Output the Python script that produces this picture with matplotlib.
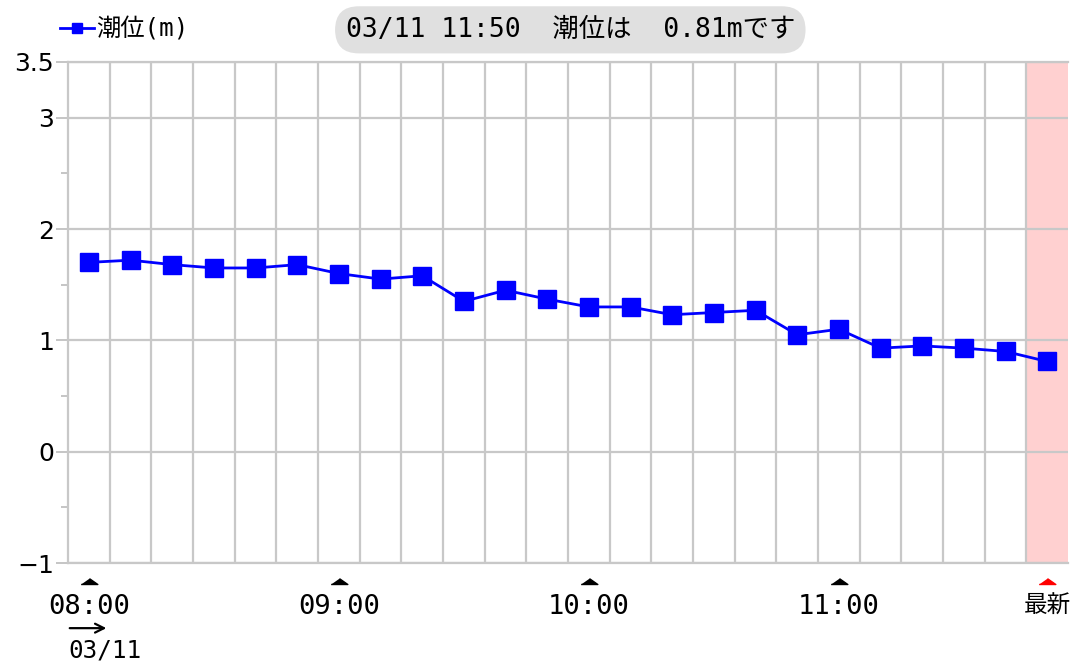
import numpy as np
import matplotlib.pyplot as plt
from matplotlib.transforms import blended_transform_factory

# 10-minute readings, 03/11 08:00 .. 11:50
times = ['08:00', '08:10', '08:20', '08:30', '08:40', '08:50',
         '09:00', '09:10', '09:20', '09:30', '09:40', '09:50',
         '10:00', '10:10', '10:20', '10:30', '10:40', '10:50',
         '11:00', '11:10', '11:20', '11:30', '11:40', '11:50']
tide = [1.70, 1.72, 1.68, 1.65, 1.65, 1.68, 1.60, 1.55, 1.58, 1.35, 1.45, 1.37,
        1.30, 1.30, 1.23, 1.25, 1.27, 1.05, 1.10, 0.93, 0.95, 0.93, 0.90, 0.81]

tick_idx = [0, 6, 12, 18, 23]
tick_labels = ['08:00', '09:00', '10:00', '11:00', '最新']
yticks = [-1, 0, 1, 2, 3, 3.5]
ytick_labels = ['−1', '0', '1', '2', '3', '3.5']
yminor = [-0.5, 0.5, 1.5, 2.5]

mono = ['DejaVu Sans Mono', 'Noto Sans CJK JP']
plt.rcParams['font.family'] = mono

fig = plt.figure(figsize=(10.7, 6.63), dpi=100)
ax = fig.add_axes([0.0636, 0.1508, 0.9346, 0.7557])

x = np.arange(len(tide))
ax.axvspan(len(tide) - 1.5, len(tide) - 0.5, color='#ffd0d0', lw=0, zorder=0)
line, = ax.plot(x, tide, color='#0000ff', lw=2, marker='s', ms=13, zorder=3)

ax.set_xlim(-0.5, len(tide) - 0.5)
ax.set_ylim(-1, 3.5)

# grid
ax.set_xticks(np.arange(0.5, len(tide) - 1, 1), minor=True)
ax.set_xticks(tick_idx, tick_labels)
ax.xaxis.grid(True, which='minor', color='#c8c8c8', lw=1.6)
ax.set_yticks(yticks, ytick_labels)
ax.set_yticks(yminor, minor=True)
ax.yaxis.grid(True, which='major', color='#c8c8c8', lw=1.6)

ax.tick_params(axis='x', which='both', length=0, pad=22, labelsize=19.5)
ax.tick_params(axis='y', which='major', length=9, width=1.2, color='#bbbbbb', labelsize=18, pad=1)
ax.tick_params(axis='y', which='minor', length=5, width=1.2, color='#bbbbbb')
for lab in ax.get_yticklabels():
    lab.set_family('DejaVu Sans')
ax.get_xticklabels()[-1].set_fontsize(17)

for s in ['left', 'bottom', 'top']:
    ax.spines[s].set_color('#c8c8c8')
    ax.spines[s].set_linewidth(1.6)
ax.spines['right'].set_visible(False)

# small triangles above the time labels
tr = blended_transform_factory(ax.transData, ax.transAxes)
tri_colors = ['black'] * (len(tick_idx) - 1) + ['red']
for xi, c in zip(tick_idx, tri_colors):
    ax.plot(xi, -0.042, marker=[(-1, 0), (1, 0), (0, 0.7)], ms=12, color=c,
            transform=tr, clip_on=False)

# date under the first label
ax.annotate('', xy=(0.42, -0.13), xytext=(-0.46, -0.13), xycoords=tr,
            textcoords=tr, annotation_clip=False,
            arrowprops=dict(arrowstyle='->', color='black', lw=1.6,
                            mutation_scale=16, shrinkA=0, shrinkB=0))
ax.text(-0.5, -0.175, '03/11', transform=tr, fontsize=17.5, ha='left', va='center')

# legend
ax.legend([line], ['潮位(m)'], loc='center left', bbox_to_anchor=(0.056, 0.955),
          bbox_transform=fig.transFigure, frameon=False, fontsize=17.5,
          handlelength=1.4, handletextpad=0.1, markerscale=0.6,
          borderpad=0, borderaxespad=0)

# status box
fig.text(0.533, 0.955, '03/11 11:50  潮位は  0.81mです', ha='center', va='center',
         fontsize=19,
         bbox=dict(boxstyle='round,pad=0.4,rounding_size=0.9', fc='#e0e0e0', ec='none'))

fig.savefig('out.png', dpi=100)
